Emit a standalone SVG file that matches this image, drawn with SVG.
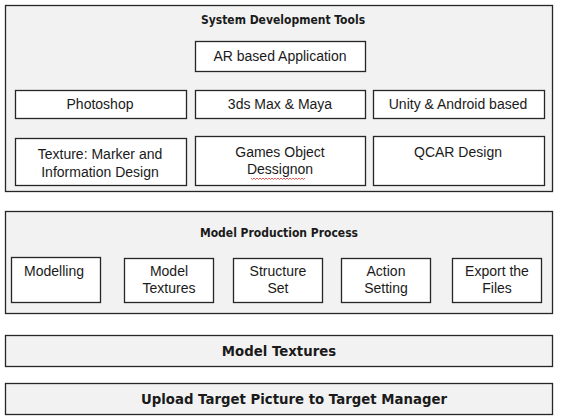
<svg xmlns="http://www.w3.org/2000/svg" width="563" height="417" viewBox="0 0 563 417">
<style>
.panel{fill:#f2f2f2;stroke:#262626;stroke-width:1.3}
.box{fill:#ffffff;stroke:#262626;stroke-width:1.3}
.t{font-family:"Liberation Sans",Arial,sans-serif;font-size:14px;fill:#1a1a1a;text-anchor:middle}
.h{font-family:"DejaVu Sans Condensed","DejaVu Sans",sans-serif;font-weight:bold;font-size:12px;fill:#1a1a1a;text-anchor:middle}
.hb{font-family:"DejaVu Sans",Verdana,sans-serif;font-weight:bold;font-size:13.3px;fill:#1a1a1a;text-anchor:middle}
</style>
<rect width="563" height="417" fill="#ffffff"/>
<g id="sys-panel">
<rect class="panel" x="5.5" y="5.5" width="547" height="186"/>
<text class="h" x="283" y="24">System Development Tools</text>
</g>
<g id="ar-app"><rect class="box" x="195.5" y="41.5" width="170" height="30"/><text class="t" x="280" y="61">AR based Application</text></g>
<g id="photoshop"><rect class="box" x="15.5" y="90.5" width="171" height="28"/><text class="t" x="100" y="109">Photoshop</text></g>
<g id="max-maya"><rect class="box" x="195.5" y="90.5" width="170" height="28"/><text class="t" x="280" y="109">3ds Max &amp; Maya</text></g>
<g id="unity"><rect class="box" x="373.5" y="90.5" width="171" height="28"/><text class="t" x="458" y="109">Unity &amp; Android  based</text></g>
<g id="texture"><rect class="box" x="15.5" y="138.5" width="171" height="47"/><text class="t" x="100" y="159">Texture:  Marker and</text><text class="t" x="100" y="177">Information  Design</text></g>
<g id="games"><rect class="box" x="195.5" y="136.5" width="170" height="49"/><text class="t" x="280" y="157">Games Object</text><text class="t" x="280" y="174">Dessignon</text>
<path d="M251 178 l1.5 1.5 l1.5 -1.5 l1.5 1.5 l1.5 -1.5 l1.5 1.5 l1.5 -1.5 l1.5 1.5 l1.5 -1.5 l1.5 1.5 l1.5 -1.5 l1.5 1.5 l1.5 -1.5 l1.5 1.5 l1.5 -1.5 l1.5 1.5 l1.5 -1.5 l1.5 1.5 l1.5 -1.5 l1.5 1.5 l1.5 -1.5 l1.5 1.5 l1.5 -1.5 l1.5 1.5 l1.5 -1.5 l1.5 1.5 l1.5 -1.5 l1.5 1.5 l1.5 -1.5 l1.5 1.5 l1.5 -1.5 l1.5 1.5 l1.5 -1.5 l1.5 1.5 l1.5 -1.5 l1.5 1.5 l1.5 -1.5" fill="none" stroke="#e03030" stroke-width="0.8"/></g>
<g id="qcar"><rect class="box" x="373.5" y="136.5" width="171" height="49"/><text class="t" x="458" y="157">QCAR  Design</text></g>

<g id="model-panel">
<rect class="panel" x="5.5" y="211.5" width="547" height="102"/>
<text class="h" x="279" y="237">Model Production Process</text>
</g>
<g id="modelling"><rect class="box" x="11.5" y="257.5" width="89" height="45"/><text class="t" x="54" y="276">Modelling</text></g>
<g id="model-textures"><rect class="box" x="124.5" y="258.5" width="89" height="44"/><text class="t" x="169" y="276">Model</text><text class="t" x="169" y="293">Textures</text></g>
<g id="structure"><rect class="box" x="233.5" y="258.5" width="89" height="44"/><text class="t" x="278" y="276">Structure</text><text class="t" x="278" y="293">Set</text></g>
<g id="action"><rect class="box" x="341.5" y="258.5" width="89" height="44"/><text class="t" x="386" y="276">Action</text><text class="t" x="386" y="293">Setting</text></g>
<g id="export"><rect class="box" x="452.5" y="258.5" width="89" height="44"/><text class="t" x="497" y="276">Export the</text><text class="t" x="497" y="293">Files</text></g>

<g id="model-textures-bar"><rect class="panel" x="5.5" y="335.5" width="547" height="31"/><text class="hb" x="279" y="356">Model Textures</text></g>
<g id="upload-bar"><rect class="panel" x="5.5" y="383.5" width="547" height="31"/><text class="hb" x="294" y="404">Upload Target Picture to Target Manager</text></g>
<g id="connectors"></g>
</svg>
